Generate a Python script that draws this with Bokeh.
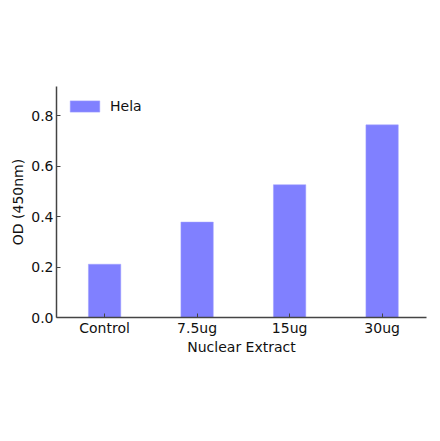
from bokeh.plotting import figure
from bokeh.models import Range1d, FixedTicker, ColumnDataSource
from bokeh.embed import file_html
from bokeh.resources import INLINE

# data
categories = ["Control", "7.5ug", "15ug", "30ug"]
od_values = [0.211, 0.378, 0.526, 0.763]
y_ticks = [0.0, 0.2, 0.4, 0.6, 0.8]

xs = list(range(len(categories)))
source = ColumnDataSource(data=dict(x=xs, top=od_values, name=categories))

FONT = "DejaVu Sans"

p = figure(width=431, height=431, output_backend="svg", toolbar_location=None,
           x_range=Range1d(-0.52, 3.48), y_range=Range1d(0, 0.915),
           frame_width=370, frame_height=231,
           min_border_left=56, min_border_right=5, min_border_top=86,
           min_border_bottom=114)
p.outline_line_color = None
p.grid.grid_line_color = None
p.background_fill_color = "white"

p.vbar(x="x", top="top", width=0.35, source=source,
       fill_color="#8080ff", line_color="#a0a0ff", line_width=0.5,
       legend_label="Hela")

p.xaxis.ticker = FixedTicker(ticks=xs)
p.xaxis.major_label_overrides = {i: c for i, c in enumerate(categories)}
p.yaxis.ticker = FixedTicker(ticks=y_ticks)
p.yaxis.major_label_overrides = {t: "%.1f" % t for t in y_ticks}

p.xaxis.axis_label = "Nuclear Extract"
p.yaxis.axis_label = "OD (450nm)"

for ax in (p.xaxis, p.yaxis):
    ax.axis_line_color = "#444444"
    ax.axis_line_width = 1.5
    ax.major_tick_line_color = "#444444"
    ax.major_tick_in = 4
    ax.major_tick_out = 0
    ax.minor_tick_line_color = None
    ax.major_label_text_font = FONT
    ax.major_label_text_font_size = "14px"
    ax.major_label_text_color = "#111111"
    ax.axis_label_text_font = FONT
    ax.axis_label_text_font_size = "14px"
    ax.axis_label_text_font_style = "normal"
    ax.axis_label_text_color = "#111111"

p.xaxis.major_label_standoff = 2
p.xaxis.axis_label_standoff = 0
p.yaxis.major_label_standoff = 3
p.yaxis.axis_label_standoff = 2

p.legend.location = (10, 203)
p.legend.margin = 0
p.legend.padding = 3
p.legend.border_line_color = None
p.legend.background_fill_alpha = 0
p.legend.glyph_width = 37
p.legend.glyph_height = 14
p.legend.label_standoff = 7
p.legend.label_text_font = FONT
p.legend.label_text_font_size = "14px"
p.legend.label_text_color = "#111111"

open("out.html", "w").write(file_html(p, INLINE))
